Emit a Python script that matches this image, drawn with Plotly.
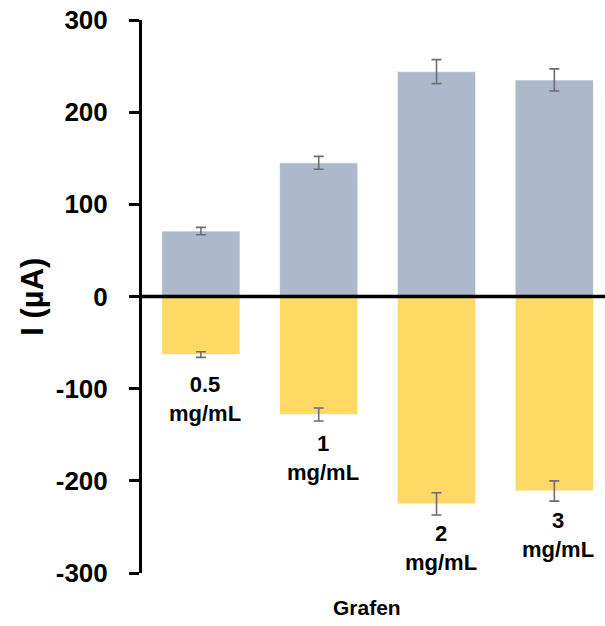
import plotly.graph_objects as go

# Graphene concentration series
categories = ["0.5<br>mg/mL", "1<br>mg/mL", "2<br>mg/mL", "3<br>mg/mL"]
anodic_current = [71, 145, 244, 235]        # µA
anodic_error = [4, 7, 13, 12]
cathodic_current = [-63, -128, -225, -211]  # µA
cathodic_error = [3, 7, 12, 11]
y_ticks = [-300, -200, -100, 0, 100, 200, 300]

FONT = "Liberation Sans, Arial, sans-serif"
BLUE = "#ADB9CA"
YELLOW = "#FFD966"
ERR = "#6E6E6E"

xs = list(range(len(categories)))

fig = go.Figure()
fig.add_trace(go.Bar(
    x=xs, y=anodic_current, width=0.665,
    marker=dict(color=BLUE, line=dict(color="rgba(255,255,255,0.7)", width=1)),
    error_y=dict(type="data", array=anodic_error, color=ERR, thickness=1.6, width=5),
    showlegend=False,
))
fig.add_trace(go.Bar(
    x=xs, y=cathodic_current, width=0.665,
    marker=dict(color=YELLOW, line=dict(color="rgba(255,255,255,0.7)", width=1)),
    error_y=dict(type="data", array=cathodic_error, color=ERR, thickness=1.6, width=5),
    showlegend=False,
))

# Category labels under the negative bars
for x, v, lab in zip(xs, cathodic_current, categories):
    fig.add_annotation(
        x=x, y=v, xref="x", yref="y", text=f"<b>{lab}</b>", showarrow=False,
        yanchor="top", xanchor="center", yshift=-15, xshift=4,
        font=dict(family=FONT, size=22, color="#000000"),
    )

# Bold zero line drawn above the bars
fig.add_shape(type="line", xref="paper", yref="y", x0=0, x1=1, y0=0, y1=0,
              line=dict(color="#000000", width=3.5), layer="above")

# Axis titles
fig.add_annotation(
    x=-0.237, y=0.5, xref="paper", yref="paper", text="<b>I (µA)</b>",
    textangle=-90, showarrow=False, xanchor="center", yanchor="middle",
    font=dict(family=FONT, size=31, color="#000000"),
)
fig.add_annotation(
    x=0.486, y=-0.062, xref="paper", yref="paper", text="<b>Grafen</b>",
    showarrow=False, xanchor="center", yanchor="middle",
    font=dict(family=FONT, size=21, color="#000000"),
)

fig.update_layout(
    width=605, height=626,
    margin=dict(l=142, r=0, t=20, b=53),
    paper_bgcolor="white", plot_bgcolor="white",
    barmode="overlay",
    font=dict(family=FONT, color="#000000"),
)
fig.update_xaxes(range=[-0.5, 3.43], showticklabels=False, showgrid=False,
                 zeroline=False, showline=False, ticks="")
fig.update_yaxes(
    range=[-300, 300], tickvals=y_ticks, ticktext=[f"<b>{t}</b>" for t in y_ticks],
    showgrid=False, zeroline=False,
    showline=True, linecolor="#000000", linewidth=3,
    ticks="outside", ticklen=10, tickwidth=3, tickcolor="#000000",
    tickfont=dict(family=FONT, size=26, color="#000000"),
    ticklabelstandoff=16,
)

fig.write_html("out.html")
